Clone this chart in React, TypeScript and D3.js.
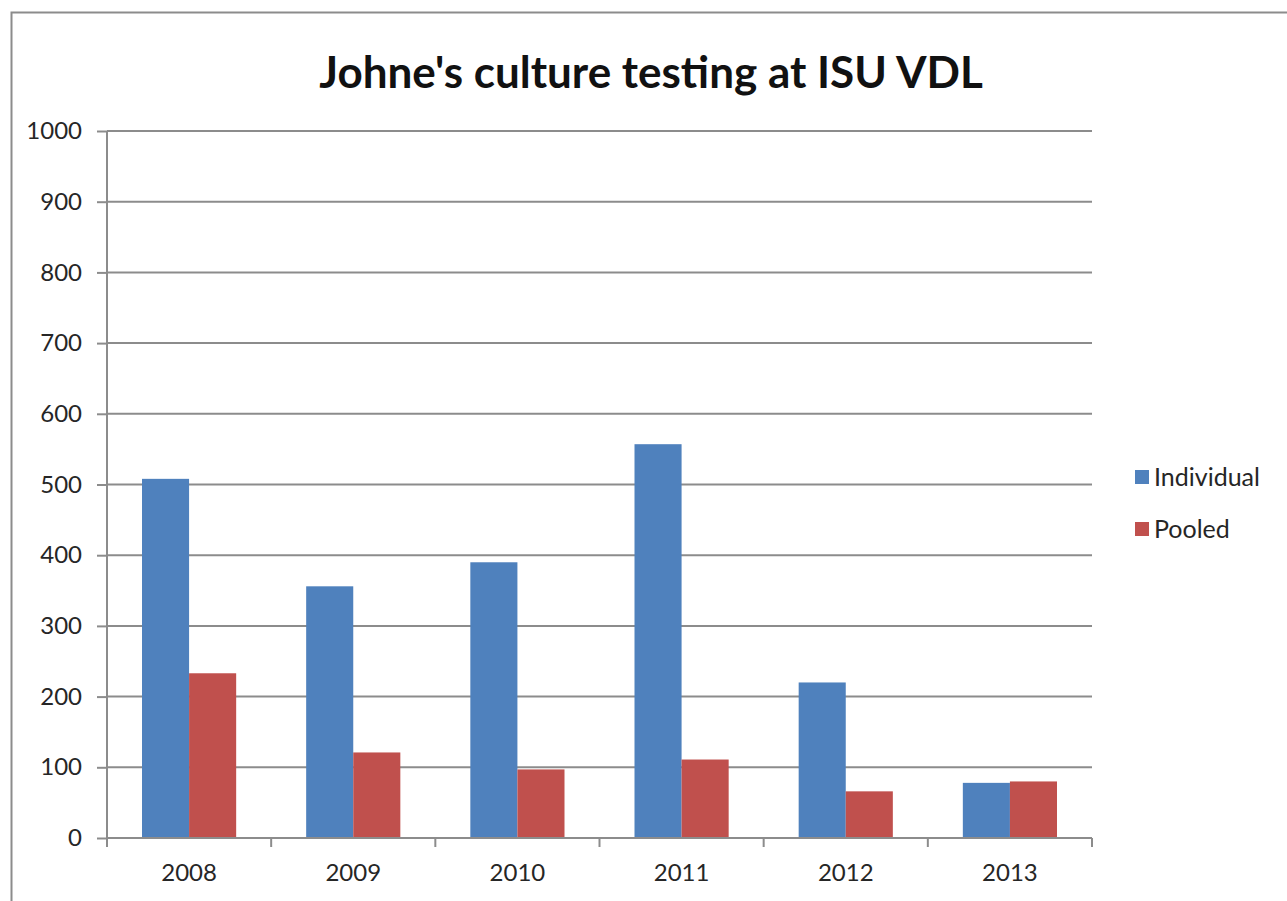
import React, { useEffect, useRef } from "react";
import { select, scaleBand, scaleLinear, axisLeft, axisBottom, range, format } from "d3";

const years = ["2008", "2009", "2010", "2011", "2012", "2013"];
const individual = [508, 356, 390, 557, 220, 78];
const pooled = [233, 121, 97, 111, 66, 80];
const seriesNames = ["Individual", "Pooled"];
const seriesColors = ["#4f81bd", "#c0504d"];
const yTicks = range(0, 1001, 100);

const W = 1287;
const H = 901;
const margin = { left: 107, right: 195, top: 131, bottom: 63 };

export default function App() {
    const svgRef: any = useRef();

    useEffect(() => {
        const svg = select(svgRef.current);
        svg.selectAll("*").remove();

        const innerW = W - margin.left - margin.right;
        const innerH = H - margin.top - margin.bottom;
        const font = "Lato, 'Open Sans', sans-serif";

        // outer frame
        svg.append("rect")
            .attr("x", 11.5).attr("y", 12.5)
            .attr("width", W + 20).attr("height", H + 20)
            .attr("fill", "#fff").attr("stroke", "#8c8c8c").attr("stroke-width", 2);

        svg.append("text")
            .attr("x", 651).attr("y", 88)
            .attr("text-anchor", "middle")
            .attr("font-family", font).attr("font-weight", 700)
            .attr("font-size", 44).attr("fill", "#111")
            .text("Johne's culture testing at ISU VDL");

        const x0: any = scaleBand().domain(years).range([0, innerW]).paddingInner(0).paddingOuter(0);
        const x1: any = scaleBand().domain(seriesNames).range([35, x0.bandwidth() - 35]);
        const y = scaleLinear().domain([0, 1000]).range([innerH, 0]);

        const g = svg.append("g").attr("transform", `translate(${margin.left},${margin.top})`);

        // gridlines
        g.append("g")
            .selectAll("line")
            .data(yTicks.filter((t) => t > 0))
            .join("line")
            .attr("x1", 0).attr("x2", innerW)
            .attr("y1", (d) => y(d)).attr("y2", (d) => y(d))
            .attr("stroke", "#8c8c8c").attr("stroke-width", 2);

        const rows = years.map((yr, i) => ({ year: yr, vals: [individual[i], pooled[i]] }));

        g.append("g")
            .selectAll("g")
            .data(rows)
            .join("g")
            .attr("transform", (d) => `translate(${x0(d.year)},0)`)
            .selectAll("rect")
            .data((d) => d.vals.map((v, k) => ({ key: seriesNames[k], v, k })))
            .join("rect")
            .attr("x", (d) => x1(d.key))
            .attr("width", x1.bandwidth())
            .attr("y", (d) => y(d.v))
            .attr("height", (d) => innerH - y(d.v))
            .attr("fill", (d) => seriesColors[d.k]);

        const yAxis: any = axisLeft(y).tickValues(yTicks).tickFormat(format("d")).tickSize(10).tickPadding(15);
        const ya = g.append("g").call(yAxis);
        ya.select(".domain").attr("stroke", "#8c8c8c").attr("stroke-width", 2).attr("d", `M0,${innerH}V0`);
        ya.selectAll(".tick line").attr("stroke", "#8c8c8c").attr("stroke-width", 2).attr("x2", -10);
        ya.selectAll("text").attr("font-family", font).attr("font-size", 24).attr("fill", "#262626");

        const xAxis: any = axisBottom(x0).tickSize(0).tickPadding(26);
        const xa = g.append("g").attr("transform", `translate(0,${innerH})`).call(xAxis);
        xa.select(".domain").attr("stroke", "#8c8c8c").attr("stroke-width", 2).attr("d", `M0,0H${innerW}`);
        xa.selectAll("text").attr("font-family", font).attr("font-size", 24).attr("fill", "#262626");

        // category boundary ticks
        g.append("g")
            .selectAll("line")
            .data(range(0, years.length + 1))
            .join("line")
            .attr("x1", (i) => i * x0.step()).attr("x2", (i) => i * x0.step())
            .attr("y1", innerH).attr("y2", innerH + 9)
            .attr("stroke", "#8c8c8c").attr("stroke-width", 2);

        const legend = svg.append("g").attr("transform", "translate(1135,470)");
        seriesNames.forEach((name, i) => {
            const row = legend.append("g").attr("transform", `translate(0,${i * 52})`);
            row.append("rect").attr("x", 0).attr("y", 0).attr("width", 14).attr("height", 14)
                .attr("fill", seriesColors[i]);
            row.append("text").attr("x", 19).attr("y", 7).attr("dy", "0.35em")
                .attr("font-family", font).attr("font-size", 25).attr("fill", "#262626")
                .text(name);
        });
    }, []);

    return (
        <div style={{ position: "absolute", left: 0, top: 0 }}>
            <svg ref={svgRef} width={W} height={H} style={{ display: "block" }} />
        </div>
    );
}
